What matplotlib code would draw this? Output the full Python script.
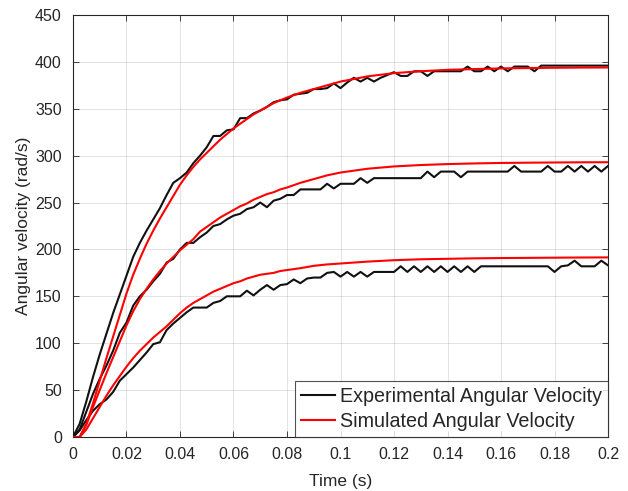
import numpy as np
import matplotlib
matplotlib.use("Agg")
import matplotlib.pyplot as plt

plt.rcParams['font.family'] = ['Liberation Sans', 'DejaVu Sans']

# Measured speed, sampled every 2.5 ms (three supply voltages)
sample_period = 0.0025
exp_high = [0, 14, 38, 64, 88, 110, 132, 152, 172, 192,
            207, 220, 232, 244, 258, 271, 276, 282, 292, 300,
            309, 321, 321, 327, 328, 340, 340, 345, 348, 352,
            357, 359, 360, 365, 366, 367, 371, 371, 372, 377,
            372, 378, 383, 379, 383, 379, 383, 386, 389, 385,
            385, 390, 390, 385, 390, 390, 390, 390, 390, 395,
            390, 390, 395, 390, 395, 390, 395, 395, 395, 390,
            396, 396, 396, 396, 396, 396, 396, 396, 396, 396, 396]
exp_mid = [0, 8, 27, 46, 62, 76, 92, 111, 122, 140,
           150, 157, 166, 174, 186, 190, 200, 207, 207, 213,
           218, 225, 227, 232, 236, 238, 243, 245, 250, 245,
           252, 254, 258, 258, 264, 264, 264, 264, 270, 265,
           270, 270, 270, 276, 271, 276, 276, 276, 276, 276,
           276, 276, 276, 283, 277, 283, 283, 283, 277, 283,
           283, 283, 283, 283, 283, 283, 289, 283, 283, 283,
           283, 289, 283, 283, 289, 283, 289, 283, 289, 283, 289]
exp_low = [0, 7, 18, 28, 35, 40, 48, 60, 67, 74,
           82, 90, 99, 101, 114, 121, 127, 133, 138, 138,
           138, 143, 145, 150, 150, 150, 156, 151, 157, 162,
           157, 162, 163, 168, 164, 169, 170, 170, 175, 176,
           171, 176, 171, 176, 171, 176, 176, 176, 176, 182,
           176, 182, 176, 182, 176, 182, 176, 182, 176, 182,
           176, 182, 182, 182, 182, 182, 182, 182, 182, 182,
           182, 182, 176, 182, 183, 188, 182, 182, 182, 188, 183]
exp_time = sample_period * np.arange(len(exp_high))

# Model response
sim_time = [0, 0.0025, 0.005, 0.0075, 0.01, 0.0125, 0.015, 0.0175, 0.02, 0.0225,
            0.025, 0.0275, 0.03, 0.0325, 0.035, 0.0375, 0.04, 0.0425, 0.045, 0.0475,
            0.05, 0.0525, 0.055, 0.0575, 0.06, 0.0625, 0.065, 0.0675, 0.07, 0.0725,
            0.075, 0.0775, 0.08, 0.085, 0.09, 0.095, 0.1, 0.11, 0.12, 0.13,
            0.14, 0.15, 0.16, 0.17, 0.18, 0.19, 0.2]
sim_high = [0, 0, 14, 36, 60, 84, 107, 130, 153, 173,
            190, 206, 220, 233, 245, 257, 269, 279, 288, 296,
            303, 310, 317, 323, 329, 334, 339, 344, 348, 352,
            356, 359, 362, 367, 371, 375, 379, 384.5, 388, 390,
            391.5, 392.3, 393, 393.4, 393.7, 393.9, 394]
sim_mid = [0, 0, 13, 32, 50, 68, 85, 102, 119, 134,
           147, 158, 168, 177, 185, 192, 199, 205, 211, 219,
           224, 229, 234, 238, 242, 246, 249, 253, 256, 259,
           261, 264, 266, 271, 275, 279, 282, 286, 288.5, 290,
           291, 291.7, 292.2, 292.5, 292.7, 292.9, 293]
sim_low = [0, 0, 8, 20, 32, 44, 55, 65, 75, 84,
           92, 99, 106, 112, 118, 125, 132, 138, 143, 147,
           151, 155, 158, 161, 164, 166, 169, 171, 173, 174,
           175, 177, 178, 180, 182.5, 184, 185, 187, 188.5, 189.5,
           190, 190.5, 190.8, 191, 191.2, 191.4, 191.5]

x_ticks = [0, 0.02, 0.04, 0.06, 0.08, 0.1, 0.12, 0.14, 0.16, 0.18, 0.2]
x_tick_labels = ['0', '0.02', '0.04', '0.06', '0.08', '0.1', '0.12', '0.14', '0.16', '0.18', '0.2']
y_ticks = [0, 50, 100, 150, 200, 250, 300, 350, 400, 450]

axis_grey = '#262626'

fig = plt.figure(figsize=(6.28, 4.91), dpi=100)
ax = fig.add_axes([0.1162, 0.110, 0.8520, 0.8595])

lw = 1.5
for i, ys in enumerate([exp_high, exp_mid, exp_low]):
    ax.plot(exp_time, ys, color='#111111', lw=lw,
            label='Experimental Angular Velocity' if i == 0 else None, zorder=3)
for i, ys in enumerate([sim_high, sim_mid, sim_low]):
    ax.plot(sim_time, ys, color='#ff0000', lw=lw,
            label='Simulated Angular Velocity' if i == 0 else None, zorder=4)

ax.set_xlim(0, 0.2)
ax.set_ylim(0, 450)
ax.set_xticks(x_ticks)
ax.set_xticklabels(x_tick_labels)
ax.set_yticks(y_ticks)

ax.grid(True, color=axis_grey, alpha=0.15, lw=0.6)
ax.set_axisbelow(True)
for s in ax.spines.values():
    s.set_color(axis_grey)
    s.set_linewidth(0.8)
ax.tick_params(direction='in', length=4, width=0.6, color=axis_grey,
               labelcolor=axis_grey, labelsize=11.5, top=True, right=True)
ax.tick_params(axis='x', pad=7.5)
ax.tick_params(axis='y', pad=8)

ax.set_xlabel('Time (s)', fontsize=12.5, color=axis_grey, labelpad=8)
ax.set_ylabel('Angular velocity (rad/s)', fontsize=12.5, color=axis_grey, labelpad=3)

leg = ax.legend(loc='lower right', borderaxespad=0, fontsize=14.2,
                frameon=True, fancybox=False, edgecolor=axis_grey,
                handlelength=1.75, handletextpad=0.25, borderpad=0.3,
                labelspacing=0.3)
leg.get_frame().set_linewidth(0.8)
for t in leg.get_texts():
    t.set_color(axis_grey)

fig.savefig('out.png', dpi=100)
